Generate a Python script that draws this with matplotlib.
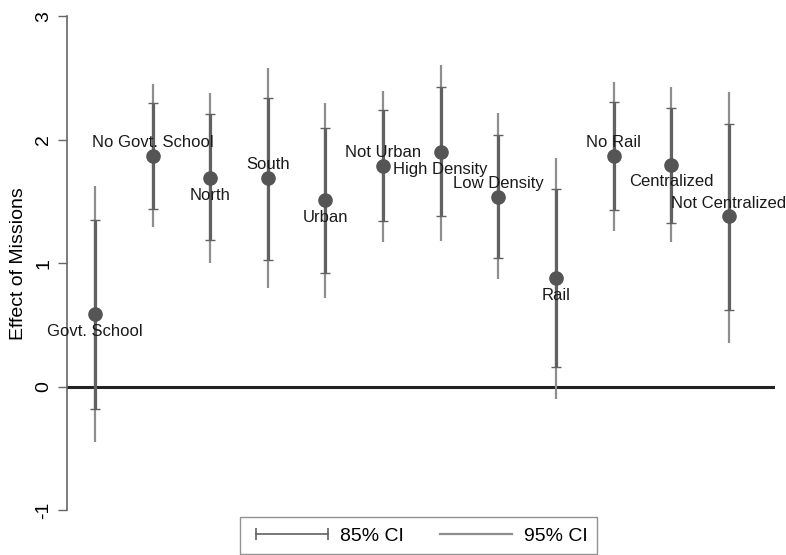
import numpy as np
import matplotlib
matplotlib.use("Agg")
import matplotlib.pyplot as plt
from matplotlib.lines import Line2D

plt.rcParams['font.family'] = ['Liberation Sans', 'DejaVu Sans']
plt.rcParams['axes.unicode_minus'] = False

# subgroup estimates and confidence intervals
labels = ["Govt. School", "No Govt. School", "North", "South", "Urban", "Not Urban",
          "High Density", "Low Density", "Rail", "No Rail", "Centralized", "Not Centralized"]
est = [0.59, 1.87, 1.69, 1.69, 1.51, 1.79, 1.90, 1.54, 0.88, 1.87, 1.80, 1.38]
lo85 = [-0.18, 1.44, 1.19, 1.03, 0.92, 1.34, 1.38, 1.04, 0.16, 1.43, 1.33, 0.62]
hi85 = [1.35, 2.30, 2.21, 2.34, 2.10, 2.24, 2.43, 2.04, 1.60, 2.31, 2.26, 2.13]
lo95 = [-0.45, 1.29, 1.00, 0.80, 0.72, 1.17, 1.18, 0.87, -0.10, 1.26, 1.17, 0.35]
hi95 = [1.63, 2.45, 2.38, 2.58, 2.30, 2.40, 2.61, 2.22, 1.85, 2.47, 2.43, 2.39]
yticks = [-1, 0, 1, 2, 3]

x = np.arange(1, len(labels) + 1)

c95 = '#8e8e8e'
c85 = '#616161'
cpt = '#555555'

fig = plt.figure(figsize=(7.86, 5.55), dpi=100)
ax = fig.add_axes([0.0852, 0.0811, 0.9008, 0.8892])

# 95% CI
ax.vlines(x, lo95, hi95, color=c95, lw=1.6, zorder=2)
# 85% CI with caps
ax.errorbar(x, est, yerr=[np.array(est) - np.array(lo85), np.array(hi85) - np.array(est)],
            fmt='none', ecolor=c85, elinewidth=2.3, capsize=3.8, capthick=1.0, zorder=3)
# point estimates
ax.plot(x, est, 'o', color=cpt, ms=9.5, zorder=4)

# labels alternate below / above
for i, (xi, yi, lab) in enumerate(zip(x, est, labels)):
    off = -12.5 if i % 2 == 0 else 9.5
    ax.annotate(lab, (xi, yi), xytext=(0, off), textcoords='offset points',
                ha='center', va='center', fontsize=12, color='#1a1a1a', zorder=5)

ax.axhline(0, color='#222222', lw=2.2, zorder=1)

ax.set_xlim(0.514, 12.8)
ax.set_ylim(-1, 3)
ax.set_yticks(yticks)
ax.set_xticks([])
for s in ['top', 'right', 'bottom']:
    ax.spines[s].set_visible(False)
ax.spines['left'].set_color('#666666')
ax.spines['left'].set_linewidth(1.2)
ax.tick_params(axis='y', labelrotation=90, labelsize=14, length=6.5, width=1.0,
               color='#666666', pad=4)
for t in ax.get_yticklabels():
    t.set_va('center')
ax.set_ylabel('Effect of Missions', fontsize=14, labelpad=6)

h85 = Line2D([0], [0], color=c85, lw=1.2, marker='|', ms=9, mew=1.2)
h95 = Line2D([0], [0], color=c95, lw=1.6)
leg = fig.legend([h85, h95], ['85% CI', '95% CI'], loc='upper center',
                 bbox_to_anchor=(0.533, 0.068), borderaxespad=0, ncol=2, fontsize=14,
                 numpoints=2, handlelength=4.3, columnspacing=1.6, handletextpad=0.3,
                 fancybox=False, edgecolor='#777777', borderpad=0.5)
leg.get_frame().set_linewidth(1.0)

fig.savefig('out.png', dpi=100)
